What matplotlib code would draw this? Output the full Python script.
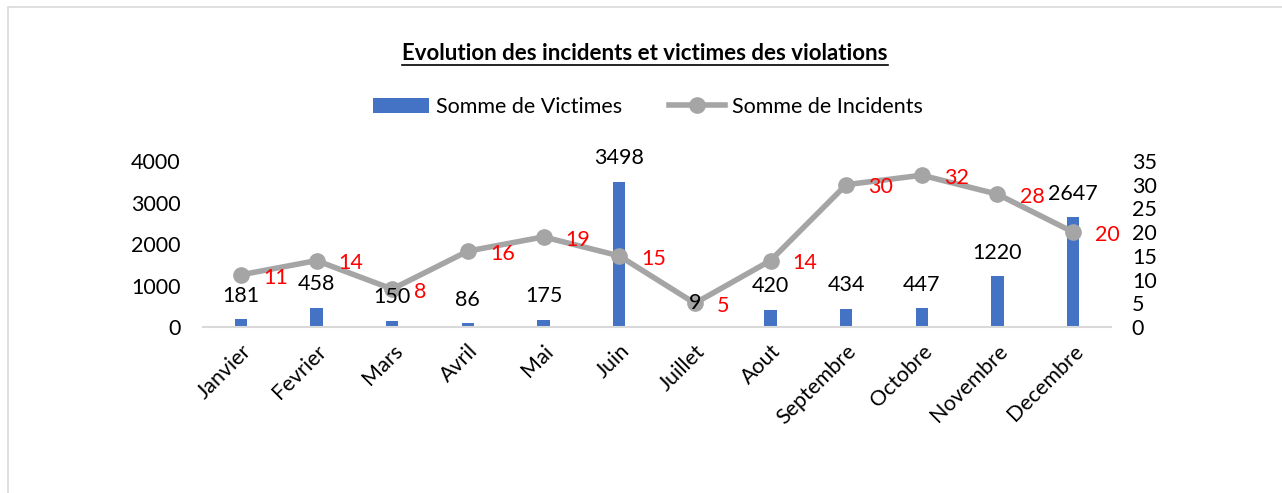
import matplotlib
matplotlib.use("Agg")
import matplotlib.pyplot as plt
from matplotlib.patches import Rectangle, Patch
from matplotlib.lines import Line2D
import numpy as np

plt.rcParams['font.family'] = ['Lato', 'DejaVu Sans']

months = ['Janvier', 'Fevrier', 'Mars', 'Avril', 'Mai', 'Juin', 'Juillet',
          'Aout', 'Septembre', 'Octobre', 'Novembre', 'Decembre']
victimes = [181, 458, 150, 86, 175, 3498, 9, 420, 434, 447, 1220, 2647]
incidents = [11, 14, 8, 16, 19, 15, 5, 14, 30, 32, 28, 20]

BLUE = '#4472C4'
GREY = '#A5A5A5'
FS = 15.5

fig = plt.figure(figsize=(12.82, 4.93), dpi=100)
fig.patches.append(Rectangle((8 / 1282, -0.01), 1.0, 1 - 7 / 493 + 0.01,
                             transform=fig.transFigure, fill=False,
                             edgecolor='#D9D9D9', lw=1.2))

ax = fig.add_axes([203 / 1282, 1 - 327 / 493, 908 / 1282, 166 / 493])
x = np.arange(len(months))
ax.bar(x, victimes, width=0.16, color=BLUE, zorder=2)
ax.set_xlim(-0.5, len(months) - 0.5)
ax.set_ylim(0, 4000)
ax.set_yticks([0, 1000, 2000, 3000, 4000])
for s in ['top', 'right', 'left']:
    ax.spines[s].set_visible(False)
ax.spines['bottom'].set_color('#D9D9D9')
ax.spines['bottom'].set_linewidth(1.5)
ax.tick_params(axis='both', length=0, labelsize=FS)
ax.tick_params(axis='y', pad=16)
ax.set_xticks(x)
ax.set_xticklabels(months, rotation=45, ha='right', rotation_mode='anchor')
ax.tick_params(axis='x', pad=10)

ax2 = ax.twinx()
ax2.plot(x, incidents, color=GREY, lw=4, marker='o', markersize=11, zorder=3)
ax2.set_ylim(0, 35)
ax2.set_yticks(range(0, 36, 5))
for s in ['top', 'right', 'left', 'bottom']:
    ax2.spines[s].set_visible(False)
ax2.tick_params(axis='y', length=0, labelsize=FS, pad=15)
for xi, v in zip(x, incidents):
    ax2.annotate(str(v), (xi, v), xytext=(16, -2), textcoords='offset points',
                 ha='left', va='center', fontsize=FS, color='#FF0000')

# victim labels drawn on top of the line
for xi, v in zip(x, victimes):
    ax2.annotate(str(v), (xi, v), xycoords=ax.transData, xytext=(0, 17),
                 textcoords='offset points', ha='center', va='center',
                 fontsize=FS, color='black', zorder=5)

# title with underline
title = fig.text(645 / 1282, 1 - 53 / 493,
                 'Evolution des incidents et victimes des violations',
                 ha='center', va='center', fontsize=16, fontweight='bold')
fig.canvas.draw()
bb = title.get_window_extent().transformed(fig.transFigure.inverted())
fig.add_artist(Line2D([bb.x0, bb.x1], [bb.y0 - 0.004, bb.y0 - 0.004],
                      transform=fig.transFigure, color='black', lw=1.2))

handles = [Patch(facecolor=BLUE),
           Line2D([], [], color=GREY, lw=4, marker='o', markersize=11)]
fig.legend(handles, ['Somme de Victimes', 'Somme de Incidents'],
           loc='center', bbox_to_anchor=(648 / 1282, 1 - 107 / 493), ncol=2,
           frameon=False, fontsize=FS, handlelength=2.6, handletextpad=0.3,
           columnspacing=2.2)

fig.savefig('out.png', dpi=100)
